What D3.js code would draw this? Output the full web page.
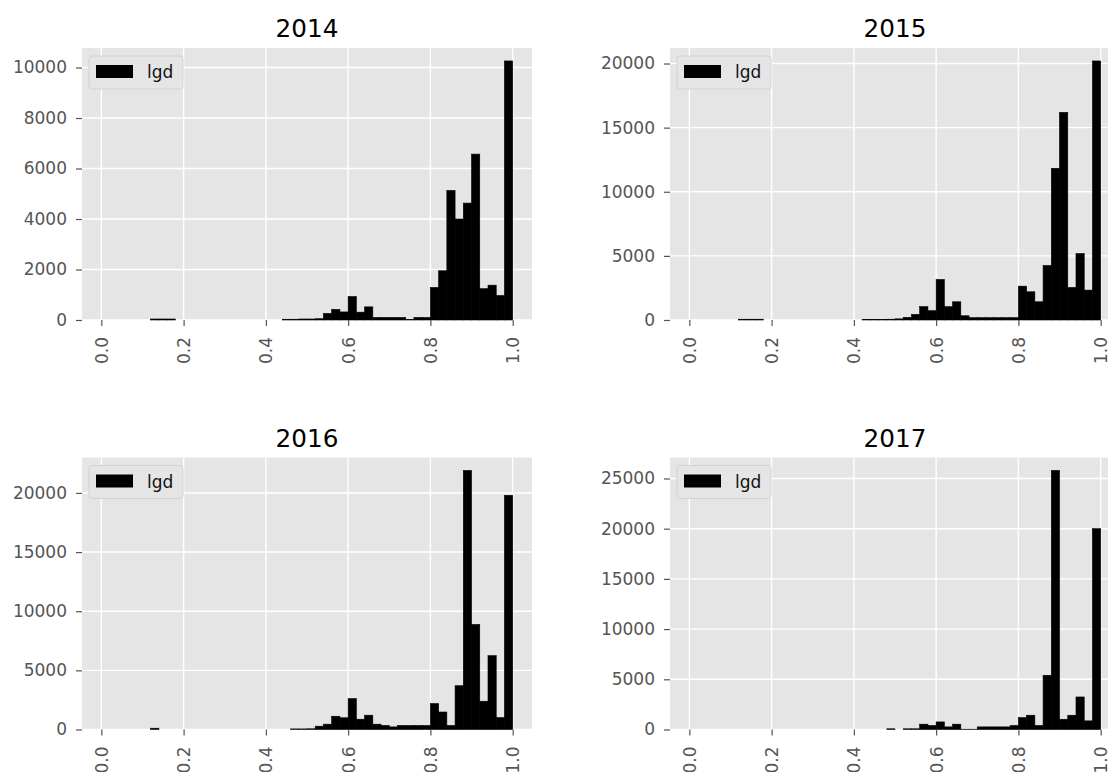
<!DOCTYPE html>
<html>
<head>
<meta charset="utf-8">
<script src="https://cdn.jsdelivr.net/npm/d3@7"></script>
<style>
  html, body { margin: 0; padding: 0; background: #fff; }
  svg { display: block; font-family: "DejaVu Sans", sans-serif; }
</style>
</head>
<body>
<svg id="chart" width="1108" height="772"></svg>
<script>
// ---- data (histogram counts, 50 bins of width 0.02 from 0.0 to 1.0) ----
const years = ["2014", "2015", "2016", "2017"];
const binWidth = 0.02;
const xTicks = [0.0, 0.2, 0.4, 0.6, 0.8, 1.0];
const legendLabel = "lgd";

const counts2014 = [
  0, 0, 0, 0, 0, 0, 40, 40, 40, 0,
  0, 0, 0, 0, 0, 0, 0, 0, 0, 0,
  0, 0, 30, 30, 40, 40, 50, 260, 420, 320,
  930, 310, 520, 100, 100, 100, 100, 20, 100, 100,
  1290, 1950, 5130, 4000, 4630, 6570, 1240, 1380, 970, 10260
];
const counts2015 = [
  0, 0, 0, 0, 0, 0, 60, 60, 60, 0,
  0, 0, 0, 0, 0, 0, 0, 0, 0, 0,
  0, 50, 50, 50, 60, 90, 210, 440, 1040, 725,
  3160, 1040, 1420, 330, 180, 180, 180, 180, 180, 180,
  2640, 2200, 1420, 4250, 11830, 16190, 2540, 5180, 2330, 20200
];
const counts2016 = [
  0, 0, 0, 0, 0, 0, 110, 0, 0, 0,
  0, 0, 0, 0, 0, 0, 0, 0, 0, 0,
  0, 0, 0, 50, 50, 60, 280, 450, 1120, 990,
  2610, 870, 1210, 450, 340, 220, 340, 340, 340, 340,
  2190, 1480, 340, 3700, 21900, 8880, 2390, 6240, 1010, 19800
];
const counts2017 = [
  0, 0, 0, 0, 0, 0, 0, 0, 0, 0,
  0, 0, 0, 0, 0, 0, 0, 0, 0, 0,
  0, 0, 0, 0, 70, 0, 70, 70, 530, 400,
  755, 260, 530, 30, 30, 260, 260, 260, 260, 400,
  1190, 1420, 400, 5400, 25800, 1020, 1420, 3240, 860, 20000
];
const yTicks2014 = [0, 2000, 4000, 6000, 8000, 10000];
const yTicks2015 = [0, 5000, 10000, 15000, 20000];
const yTicks2016 = [0, 5000, 10000, 15000, 20000];
const yTicks2017 = [0, 5000, 10000, 15000, 20000, 25000];

const panels = [
  { title: years[0], counts: counts2014, yTicks: yTicks2014, left: 82,  top: 48 },
  { title: years[1], counts: counts2015, yTicks: yTicks2015, left: 670, top: 48 },
  { title: years[2], counts: counts2016, yTicks: yTicks2016, left: 82,  top: 457.5 },
  { title: years[3], counts: counts2017, yTicks: yTicks2017, left: 670, top: 457.5 }
];
const W = 450, H = 272;

const svg = d3.select("#chart");

panels.forEach(p => {
  const g = svg.append("g");
  const x = d3.scaleLinear().domain([-0.047, 1.047]).range([p.left, p.left + W]);
  const ymax = d3.max(p.counts) * 1.05;
  const y = d3.scaleLinear().domain([0, ymax]).range([p.top + H, p.top]);

  // background
  g.append("rect")
    .attr("x", p.left).attr("y", p.top)
    .attr("width", W).attr("height", H)
    .attr("fill", "#e5e5e5");

  // grid
  g.selectAll(".vgrid").data(xTicks).enter().append("line")
    .attr("x1", d => x(d)).attr("x2", d => x(d))
    .attr("y1", p.top).attr("y2", p.top + H)
    .attr("stroke", "#ffffff").attr("stroke-width", 1.4);
  g.selectAll(".hgrid").data(p.yTicks).enter().append("line")
    .attr("x1", p.left).attr("x2", p.left + W)
    .attr("y1", d => y(d)).attr("y2", d => y(d))
    .attr("stroke", "#ffffff").attr("stroke-width", 1.4);

  // bars
  const bins = p.counts.map((c, i) => ({ x0: i * binWidth, x1: (i + 1) * binWidth, c }))
    .filter(b => b.c > 0);
  g.selectAll(".bar").data(bins).enter().append("rect")
    .attr("x", d => x(d.x0))
    .attr("width", d => x(d.x1) - x(d.x0))
    .attr("y", d => y(d.c))
    .attr("height", d => y(0) - y(d.c))
    .attr("fill", "#000")
    .attr("stroke", "#000")
    .attr("stroke-width", 0.6);

  // y axis
  const yAxis = g.append("g")
    .attr("transform", `translate(${p.left},0)`)
    .call(d3.axisLeft(y).tickValues(p.yTicks).tickFormat(d3.format("d")).tickSize(6).tickPadding(9));
  yAxis.select(".domain").remove();
  yAxis.selectAll("line").attr("stroke", "#555555").attr("stroke-width", 1.2);
  yAxis.selectAll("text")
    .attr("fill", "#555555")
    .style("font-size", "17px")
    .style("font-family", "DejaVu Sans, sans-serif");

  // x axis
  const xAxis = g.append("g")
    .attr("transform", `translate(0,${p.top + H})`)
    .call(d3.axisBottom(x).tickValues(xTicks).tickFormat(d3.format(".1f")).tickSize(6));
  xAxis.select(".domain").remove();
  xAxis.selectAll("line").attr("stroke", "#555555").attr("stroke-width", 1.2);
  xAxis.selectAll("text")
    .attr("fill", "#555555")
    .style("font-size", "17px")
    .style("font-family", "DejaVu Sans, sans-serif")
    .attr("transform", "rotate(-90)")
    .attr("text-anchor", "end")
    .attr("x", -17)
    .attr("y", 0)
    .attr("dy", "0.35em");

  // title
  g.append("text")
    .attr("x", p.left + W / 2)
    .attr("y", p.top - 11)
    .attr("text-anchor", "middle")
    .attr("fill", "#000")
    .style("font-size", "24.7px")
    .text(p.title);

  // legend
  const lg = g.append("g").attr("transform", `translate(${p.left + 7},${p.top + 8})`);
  lg.append("rect")
    .attr("width", 94).attr("height", 33).attr("rx", 3)
    .attr("fill", "#e5e5e5").attr("stroke", "#d2d2d2").attr("stroke-width", 1);
  lg.append("rect")
    .attr("x", 7).attr("y", 9).attr("width", 37).attr("height", 13)
    .attr("fill", "#000");
  lg.append("text")
    .attr("x", 58).attr("y", 22)
    .attr("fill", "#111")
    .style("font-size", "17px")
    .text(legendLabel);
});
</script>
</body>
</html>
